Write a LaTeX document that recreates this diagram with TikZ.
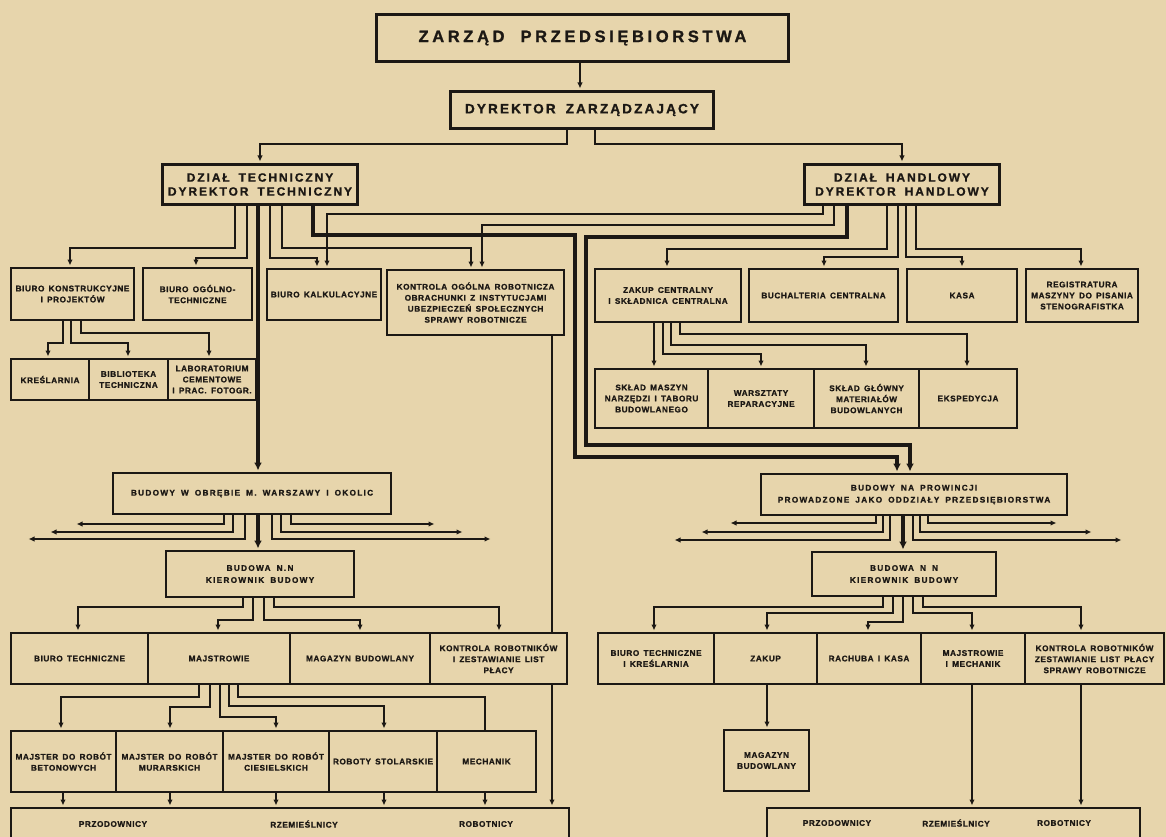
\documentclass[tikz,border=0pt]{standalone}
\usepackage{fontspec}
\newfontfamily\hand{Liberation Sans}[LetterSpace=7,WordSpace=1.5,FakeBold=1.2]
\newfontfamily\handwide{Liberation Sans}[LetterSpace=16,WordSpace=1.7,FakeBold=1.2]
\usetikzlibrary{arrows.meta}
\definecolor{paper}{RGB}{231,213,172}
\definecolor{ink}{RGB}{28,24,20}
\pgfdeclarelayer{background}
\pgfsetlayers{background,main}
\tikzset{
  box/.style={draw=ink, line width=2.1pt, fill=paper, inner sep=1pt, align=center, text=ink,
    font=\hand\bfseries\fontsize{8.2}{11}\selectfont},
  bigbox/.style={box, line width=3pt},
  widebox/.style={box, font=\handwide\bfseries\fontsize{8.2}{12}\selectfont},
  lbl/.style={inner sep=0pt, text=ink, font=\hand\bfseries\fontsize{8.2}{11}\selectfont},
  conn/.style={draw=ink, line width=1.8pt},
  arr/.style={conn, shorten >=1.5pt, -{Latex[length=6pt,width=5.5pt]}},
  heavy/.style={draw=ink, line width=3.6pt},
  heavyarr/.style={heavy, shorten >=1.5pt, -{Latex[length=8pt,width=8pt]}},
}
\newcommand\bx[7][box]{\node[#1, minimum width={#5pt-#3pt}, minimum height={#6pt-#4pt}, anchor=north west] (#2) at (#3,#4) {#7};}
\begin{document}
\begin{tikzpicture}[x=1pt,y=-1pt]
\useasboundingbox (0,0) rectangle (1166,837);
\begin{pgfonlayer}{background}
\fill[paper] (0,0) rectangle (1166,837);
\end{pgfonlayer}

% top
\bx[bigbox, font=\handwide\bfseries\addfontfeatures{LetterSpace=22}\fontsize{16.5}{19}\selectfont]{zp}{375}{13}{787}{60}{ZARZĄD\hspace{16pt}PRZEDSIĘBIORSTWA}
\bx[bigbox, font=\handwide\bfseries\fontsize{13.5}{16}\selectfont]{dz}{449}{90}{712}{127}{DYREKTOR ZARZĄDZAJĄCY}
\bx[bigbox, font=\handwide\bfseries\fontsize{12}{14}\selectfont]{tech}{161}{163}{356}{203}{DZIAŁ TECHNICZNY\\DYREKTOR TECHNICZNY}
\bx[bigbox, font=\handwide\bfseries\fontsize{12}{14}\selectfont]{han}{803}{163}{998}{203}{DZIAŁ HANDLOWY\\DYREKTOR HANDLOWY}

% technical department
\bx{bk}{10}{267}{133}{319}{BIURO KONSTRUKCYJNE\\I PROJEKTÓW}
\bx{bo}{142}{267}{251}{319}{BIURO OGÓLNO-\\TECHNICZNE}
\bx{bkal}{266}{268}{380}{319}{BIURO KALKULACYJNE}
\bx{ko}{386}{269}{563}{334}{KONTROLA OGÓLNA ROBOTNICZA\\OBRACHUNKI Z INSTYTUCJAMI\\UBEZPIECZEŃ SPOŁECZNYCH\\SPRAWY ROBOTNICZE}
\bx{kr}{10}{358}{88}{399}{KREŚLARNIA}
\bx{bib}{88}{358}{167}{399}{BIBLIOTEKA\\TECHNICZNA}
\bx{lab}{167}{358}{255}{399}{LABORATORIUM\\CEMENTOWE\\I PRAC. FOTOGR.}

% commercial department
\bx{zc}{594}{268}{740}{321}{ZAKUP CENTRALNY\\I SKŁADNICA CENTRALNA}
\bx{buch}{748}{268}{897}{321}{BUCHALTERIA CENTRALNA}
\bx{kasa}{906}{268}{1016}{321}{KASA}
\bx{reg}{1025}{268}{1137}{321}{REGISTRATURA\\MASZYNY DO PISANIA\\STENOGRAFISTKA}
\bx{sm}{594}{368}{707}{427}{SKŁAD MASZYN\\NARZĘDZI I TABORU\\BUDOWLANEGO}
\bx{ws}{707}{368}{813}{427}{WARSZTATY\\REPARACYJNE}
\bx{sg}{813}{368}{918}{427}{SKŁAD GŁÓWNY\\MATERIAŁÓW\\BUDOWLANYCH}
\bx{ek}{918}{368}{1016}{427}{EKSPEDYCJA}

% sites
\bx[widebox]{bw}{112}{472}{390}{513}{BUDOWY W OBRĘBIE M. WARSZAWY I OKOLIC}
\bx[widebox]{bp}{760}{473}{1066}{514}{BUDOWY NA PROWINCJI\\PROWADZONE JAKO ODDZIAŁY PRZEDSIĘBIORSTWA}
\bx[widebox]{bn1}{165}{550}{353}{596}{BUDOWA N.N\\KIEROWNIK BUDOWY}
\bx[widebox]{bn2}{811}{551}{995}{595}{BUDOWA N N\\KIEROWNIK BUDOWY}

% left site
\bx{bt1}{10}{632}{147}{683}{BIURO TECHNICZNE}
\bx{mj1}{147}{632}{289}{683}{MAJSTROWIE}
\bx{mg1}{289}{632}{429}{683}{MAGAZYN BUDOWLANY}
\bx{kr1}{429}{632}{566}{683}{KONTROLA ROBOTNIKÓW\\I ZESTAWIANIE LIST\\PŁACY}
\bx{mb}{10}{730}{115}{791}{MAJSTER DO ROBÓT\\BETONOWYCH}
\bx{mm}{115}{730}{222}{791}{MAJSTER DO ROBÓT\\MURARSKICH}
\bx{mc}{222}{730}{328}{791}{MAJSTER DO ROBÓT\\CIESIELSKICH}
\bx{rs}{328}{730}{436}{791}{ROBOTY STOLARSKIE}
\bx{mech}{436}{730}{535}{791}{MECHANIK}
\bx{bl}{10}{807}{568}{850}{}
\node[lbl] (bl1) at (113,824) {PRZODOWNICY};
\node[lbl] (bl2) at (304,824) {RZEMIEŚLNICY};
\node[lbl] (bl3) at (486,824) {ROBOTNICY};

% right site
\bx{bt2}{597}{632}{713}{683}{BIURO TECHNICZNE\\I KREŚLARNIA}
\bx{zk2}{713}{632}{816}{683}{ZAKUP}
\bx{rk2}{816}{632}{920}{683}{RACHUBA I KASA}
\bx{mj2}{920}{632}{1024}{683}{MAJSTROWIE\\I MECHANIK}
\bx{kr3}{1024}{632}{1163}{683}{KONTROLA ROBOTNIKÓW\\ZESTAWIANIE LIST PŁACY\\SPRAWY ROBOTNICZE}
\bx{mg2}{723}{729}{808}{790}{MAGAZYN\\BUDOWLANY}
\bx{br}{766}{807}{1139}{850}{}
\node[lbl] (br1) at (837,823) {PRZODOWNICY};
\node[lbl] (br2) at (956,823) {RZEMIEŚLNICY};
\node[lbl] (br3) at (1064,823) {ROBOTNICY};

% free ends of the site distribution arrows
\coordinate (wl1) at (75,524);  \coordinate (wl2) at (49,532);  \coordinate (wl3) at (27,539);
\coordinate (wr1) at (436,524); \coordinate (wr2) at (464,532); \coordinate (wr3) at (492,539);
\coordinate (pl1) at (729,523); \coordinate (pl2) at (700,532); \coordinate (pl3) at (673,540);
\coordinate (pr1) at (1058,523); \coordinate (pr2) at (1093,532); \coordinate (pr3) at (1123,540);

\begin{pgfonlayer}{background}
\draw[arr] (zp.south -| 580,0) -- (dz.north -| 580,0);
\draw[arr] (dz.south -| 567,0) -- (567,144) -| (tech.north);
\draw[arr] (dz.south -| 595,0) -- (595,144) -| (han.north);

% from technical department
\draw[arr] (tech.south -| 235,0) -- (235,248) -| (bk.north -| 70,0);
\draw[arr] (tech.south -| 247,0) -- (247,258) -| (bo.north -| 196,0);
\draw[heavyarr] (tech.south -| 258,0) -- (bw.north -| 258,0);
\draw[arr] (tech.south -| 270,0) -- (270,258) -| (bkal.north -| 317,0);
\draw[arr] (tech.south -| 282,0) -- (282,248) -| (ko.north -| 471,0);
\draw[heavyarr] (tech.south -| 313,0) -- (313,235) -- (575,235) -- (575,457) -| (bp.north -| 897,0);

% from commercial department
\draw[arr] (han.south -| 823,0) -- (823,214) -| (bkal.north -| 327,0);
\draw[arr] (han.south -| 834,0) -- (834,225) -| (ko.north -| 482,0);
\draw[heavyarr] (han.south -| 847,0) -- (847,237) -- (586,237) -- (586,445) -| (bp.north -| 910,0);
\draw[arr] (han.south -| 887,0) -- (887,249) -| (zc.north -| 667,0);
\draw[arr] (han.south -| 898,0) -- (898,257) -| (buch.north -| 824,0);
\draw[arr] (han.south -| 906,0) -- (906,257) -| (kasa.north -| 962,0);
\draw[arr] (han.south -| 916,0) -- (916,249) -| (reg.north -| 1081,0);

% central purchase
\draw[arr] (zc.south -| 654,0) -- (sm.north -| 654,0);
\draw[arr] (zc.south -| 663,0) -- (663,354) -| (ws.north -| 761,0);
\draw[arr] (zc.south -| 671,0) -- (671,345) -| (sg.north -| 866,0);
\draw[arr] (zc.south -| 680,0) -- (680,334) -| (ek.north -| 967,0);

% design office
\draw[arr] (bk.south -| 63,0) -- (63,343) -| (kr.north -| 48,0);
\draw[arr] (bk.south -| 71,0) -- (71,343) -| (bib.north -| 128,0);
\draw[arr] (bk.south -| 81,0) -- (81,333) -| (lab.north -| 209,0);

% general control down to workers
\draw[arr] (ko.south -| 552,0) -- (bl.north -| 552,0);

% Warsaw sites
\draw[heavyarr] (bw.south -| 258,0) -- (bn1.north -| 258,0);
\draw[arr] (bw.south -| 224,0) |- (wl1);
\draw[arr] (bw.south -| 233,0) |- (wl2);
\draw[arr] (bw.south -| 245,0) |- (wl3);
\draw[arr] (bw.south -| 291,0) |- (wr1);
\draw[arr] (bw.south -| 281,0) |- (wr2);
\draw[arr] (bw.south -| 272,0) |- (wr3);

% provincial sites
\draw[heavyarr] (bp.south -| 903,0) -- (bn2.north -| 903,0);
\draw[arr] (bp.south -| 876,0) |- (pl1);
\draw[arr] (bp.south -| 883,0) |- (pl2);
\draw[arr] (bp.south -| 890,0) |- (pl3);
\draw[arr] (bp.south -| 928,0) |- (pr1);
\draw[arr] (bp.south -| 920,0) |- (pr2);
\draw[arr] (bp.south -| 913,0) |- (pr3);

% left site manager
\draw[arr] (bn1.south -| 243,0) -- (243,607) -| (bt1.north -| 78,0);
\draw[arr] (bn1.south -| 253,0) -- (253,620) -| (mj1.north -| 218,0);
\draw[arr] (bn1.south -| 264,0) -- (264,620) -| (mg1.north -| 360,0);
\draw[arr] (bn1.south -| 274,0) -- (274,607) -| (kr1.north -| 499,0);

% foremen
\draw[arr] (mj1.south -| 199,0) -- (199,697) -| (mb.north -| 61,0);
\draw[arr] (mj1.south -| 210,0) -- (210,707) -| (mm.north -| 170,0);
\draw[arr] (mj1.south -| 220,0) -- (220,717) -| (mc.north -| 276,0);
\draw[arr] (mj1.south -| 229,0) -- (229,706) -| (rs.north -| 384,0);
\draw[conn] (mj1.south -| 238,0) -- (238,697) -| (mech.north -| 485,0);
\draw[arr] (mb.south -| 63,0) -- (bl.north -| 63,0);
\draw[arr] (mm.south -| 170,0) -- (bl.north -| 170,0);
\draw[arr] (mc.south -| 276,0) -- (bl.north -| 276,0);
\draw[arr] (rs.south -| 384,0) -- (bl.north -| 384,0);
\draw[arr] (mech.south -| 485,0) -- (bl.north -| 485,0);

% right site manager
\draw[arr] (bn2.south -| 883,0) -- (883,607) -| (bt2.north -| 654,0);
\draw[arr] (bn2.south -| 893,0) -- (893,613) -| (zk2.north -| 767,0);
\draw[arr] (bn2.south -| 903,0) -- (903,622) -| (rk2.north -| 868,0);
\draw[arr] (bn2.south -| 913,0) -- (913,613) -| (mj2.north -| 972,0);
\draw[arr] (bn2.south -| 923,0) -- (923,607) -| (kr3.north -| 1081,0);
\draw[arr] (zk2.south -| 767,0) -- (mg2.north -| 767,0);
\draw[arr] (mj2.south -| 972,0) -- (br.north -| 972,0);
\draw[arr] (kr3.south -| 1081,0) -- (br.north -| 1081,0);
\end{pgfonlayer}
\end{tikzpicture}
\end{document}
